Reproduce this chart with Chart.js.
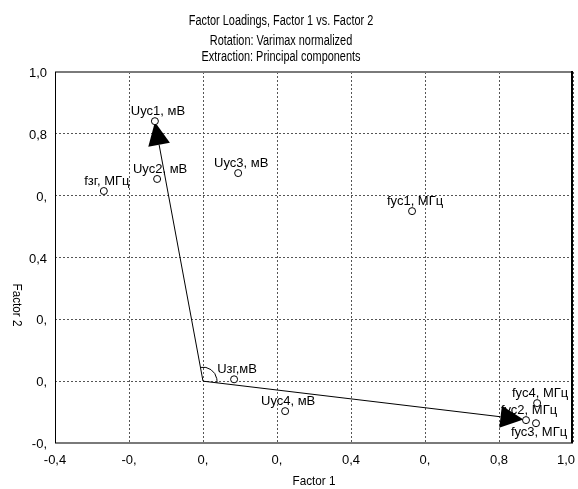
<!DOCTYPE html>
<html>
<head>
<meta charset="utf-8">
<script src="https://cdn.jsdelivr.net/npm/chart.js@4"></script>
<style>
  html, body { margin: 0; padding: 0; background: #fff; }
  #wrap { width: 578px; height: 489px; }
</style>
</head>
<body>
<div id="wrap"><canvas id="myChart" width="578" height="489"></canvas></div>
<script>
// variables (Factor 1 / Factor 2 loadings)
const variables = ["Uус1, мВ", "Uус2, мВ", "Uус3, мВ", "fзг, МГц", "fус1, МГц",
                   "Uзг,мВ", "Uус4, мВ", "fус4, МГц", "fус2, МГц", "fус3, МГц"];
const factor1 = [-0.130, -0.124, 0.095, -0.268, 0.565, 0.084, 0.222, 0.903, 0.873, 0.900];
const factor2 = [0.841, 0.654, 0.673, 0.615, 0.550, 0.006, -0.097, -0.071, -0.126, -0.136];

// arrows from the origin (factor1, factor2)
const arrowOrigin = [0, 0];
const arrowTipsX = [-0.130, 0.866];
const arrowTipsY = [0.838, -0.124];

// tick labels as printed on the original
const xTickLabels = ["-0,4", "-0,", "0,", "0,", "0,4", "0,", "0,8", "1,0"];
const yTickLabels = ["-0,", "0,", "0,", "0,4", "0,", "0,8", "1,0"];

const titleLines = ["Factor Loadings, Factor 1 vs. Factor 2",
                    "Rotation: Varimax normalized",
                    "Extraction: Principal components"];

const fontFamily = "'Liberation Sans', Arial, sans-serif";

// squeezed text, the original uses a narrow face
function narrowText(ctx, text, x, y, squeeze) {
  ctx.save();
  ctx.translate(x, y);
  ctx.scale(squeeze, 1);
  ctx.fillText(text, 0, 0);
  ctx.restore();
}

// titles, tick labels, frame, arrows
const extrasPlugin = {
  id: "extras",
  beforeDatasetsDraw(chart) {
    const ctx = chart.ctx;
    const a = chart.chartArea;
    const xs = chart.scales.x, ys = chart.scales.y;
    ctx.save();
    // frame
    ctx.setLineDash([]);
    ctx.strokeStyle = "#7a7a7a";
    ctx.lineWidth = 2;
    ctx.beginPath();
    ctx.moveTo(a.left, a.top); ctx.lineTo(a.right, a.top);
    ctx.moveTo(a.left, a.bottom); ctx.lineTo(a.right, a.bottom);
    ctx.stroke();
    ctx.strokeStyle = "#000";
    ctx.lineWidth = 1;
    ctx.beginPath();
    ctx.moveTo(a.left + 0.5, a.top); ctx.lineTo(a.left + 0.5, a.bottom);
    ctx.stroke();
    ctx.lineWidth = 2;
    ctx.beginPath();
    ctx.moveTo(a.right - 1, a.top - 1); ctx.lineTo(a.right - 1, a.bottom);
    ctx.stroke();

    // arrows
    const ox = xs.getPixelForValue(arrowOrigin[0]);
    const oy = ys.getPixelForValue(arrowOrigin[1]);
    const angles = [];
    ctx.fillStyle = "#000";
    ctx.lineWidth = 1;
    for (let i = 0; i < arrowTipsX.length; i++) {
      const tx = xs.getPixelForValue(arrowTipsX[i]);
      const ty = ys.getPixelForValue(arrowTipsY[i]);
      const ang = Math.atan2(ty - oy, tx - ox);
      angles.push(ang);
      const len = 23, half = 11;
      const bx = tx - len * Math.cos(ang), by = ty - len * Math.sin(ang);
      ctx.beginPath();
      ctx.moveTo(ox, oy); ctx.lineTo(bx, by);
      ctx.stroke();
      ctx.beginPath();
      ctx.moveTo(tx, ty);
      ctx.lineTo(bx + half * Math.sin(ang), by - half * Math.cos(ang));
      ctx.lineTo(bx - half * Math.sin(ang), by + half * Math.cos(ang));
      ctx.closePath();
      ctx.fill();
    }
    // angle mark
    ctx.beginPath();
    ctx.arc(ox, oy, 14, angles[0], angles[1]);
    ctx.stroke();
    ctx.restore();
  },
  afterDraw(chart) {
    const ctx = chart.ctx;
    const a = chart.chartArea;
    const xs = chart.scales.x, ys = chart.scales.y;
    ctx.save();
    ctx.fillStyle = "#000";
    ctx.textBaseline = "alphabetic";

    // tick labels
    ctx.font = "13px " + fontFamily;
    ctx.textAlign = "center";
    xs.ticks.forEach(function(t, i) {
      const label = xTickLabels[i];
      const w = ctx.measureText(label).width;
      let x = xs.getPixelForTick(i);
      x = Math.min(x, 575 - w / 2);
      ctx.fillText(label, x, 464);
    });
    ctx.textAlign = "right";
    ys.ticks.forEach(function(t, i) {
      ctx.fillText(yTickLabels[i], a.left - 8, ys.getPixelForTick(i) + 5);
    });

    // titles
    ctx.textAlign = "center";
    ctx.font = "14px " + fontFamily;
    narrowText(ctx, titleLines[0], 281, 25, 0.78);
    narrowText(ctx, titleLines[1], 281, 45, 0.78);
    narrowText(ctx, titleLines[2], 281, 61, 0.78);

    ctx.font = "13px " + fontFamily;
    narrowText(ctx, "Factor 1", (a.left + a.right) / 2, 485, 0.9);
    ctx.translate(13, 305);
    ctx.rotate(Math.PI / 2);
    narrowText(ctx, "Factor 2", 0, 0, 0.9);
    ctx.restore();
  }
};

// point labels, put below when they would collide
const labelPlugin = {
  id: "pointLabels",
  afterDatasetsDraw(chart) {
    const ctx = chart.ctx;
    const a = chart.chartArea;
    const meta = chart.getDatasetMeta(0);
    const placed = [];
    ctx.save();
    ctx.font = "13px " + fontFamily;
    ctx.fillStyle = "#000";
    ctx.textAlign = "center";
    ctx.textBaseline = "alphabetic";
    meta.data.forEach(function(pt, i) {
      const text = variables[i];
      const w = ctx.measureText(text).width;
      let cx = pt.x + 3;
      cx = Math.max(a.left + 1 + w / 2, Math.min(a.right - 2 - w / 2, cx));
      let base = pt.y - 6;
      let r = [cx - w / 2, base - 10, cx + w / 2, base + 2];
      const hit = placed.some(function(p) {
        return r[0] < p[2] && r[2] > p[0] && r[1] < p[3] && r[3] > p[1];
      });
      if (hit) {
        base = pt.y + 13;
        r = [cx - w / 2, base - 10, cx + w / 2, base + 2];
      }
      placed.push(r);
      ctx.fillText(text, cx, base);
    });
    ctx.restore();
  }
};

var ctx = document.getElementById("myChart").getContext("2d");
var myChart = new Chart(ctx, {
  type: "scatter",
  data: {
    datasets: [{
      data: factor1.map(function(x, i) { return { x: x, y: factor2[i] }; }),
      pointRadius: 3.5,
      pointBackgroundColor: "#fff",
      pointBorderColor: "#000",
      pointBorderWidth: 1
    }]
  },
  options: {
    responsive: false,
    animation: false,
    layout: { padding: { top: 72, right: 4, left: 0, bottom: 0 } },
    plugins: { legend: { display: false }, tooltip: { enabled: false } },
    scales: {
      x: {
        type: "linear",
        min: -0.4,
        max: 1.0,
        afterFit: function(s) { s.height = 46; },
        ticks: { stepSize: 0.2, autoSkip: false, display: false },
        grid: { color: "#555", lineWidth: 1, drawTicks: false },
        border: { display: false, dash: [2, 2] }
      },
      y: {
        min: -0.2,
        max: 1.0,
        afterFit: function(s) { s.width = 55; },
        ticks: { stepSize: 0.2, autoSkip: false, display: false },
        grid: { color: "#555", lineWidth: 1, drawTicks: false },
        border: { display: false, dash: [2, 2] }
      }
    }
  },
  plugins: [extrasPlugin, labelPlugin]
});
</script>
</body>
</html>
